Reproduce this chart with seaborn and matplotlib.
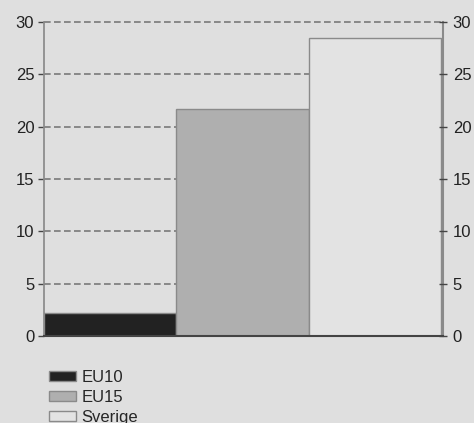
import matplotlib
matplotlib.use("Agg")
import matplotlib.pyplot as plt
import pandas as pd
import seaborn as sns

regions = ["EU10", "EU15", "Sverige"]
shares = [2.2, 21.7, 28.5]
bar_colors = ["#222222", "#afafaf", "#e3e3e3"]
yticks = [0, 5, 10, 15, 20, 25, 30]

bg = "#dfdfdf"

sns.set_theme(style="white")
plt.rcParams["font.family"] = ["Liberation Sans", "DejaVu Sans"]

df = pd.DataFrame({"region": regions, "share": shares})

fig = plt.figure(figsize=(4.74, 4.23), dpi=100)
fig.patch.set_facecolor(bg)
ax = fig.add_axes([44 / 474, 87 / 423, 399 / 474, 314 / 423])
ax.set_facecolor(bg)

sns.barplot(
    data=df, x="region", y="share", hue="region", palette=bar_colors,
    hue_order=regions, order=regions, width=1, edgecolor="#8a8a8a",
    linewidth=1, legend=True, ax=ax,
)
ax.set_xlim(-0.5, 2.515)
ax.set_ylim(0, 30)
ax.set_yticks(yticks)
ax.set_xticks([])
ax.set_xlabel("")
ax.set_ylabel("")
ax.set_axisbelow(True)
ax.yaxis.grid(True, linestyle=(0, (4, 2)), color="#7a7a7a", linewidth=1.2)
for line in ax.get_ygridlines():
    line.set_clip_on(False)

ax.spines["top"].set_visible(False)
ax.spines["left"].set_color("#8a8a8a")
ax.spines["right"].set_color("#8a8a8a")
ax.spines["right"].set_linewidth(1.5)
ax.spines["bottom"].set_color("#444444")
ax.spines["bottom"].set_linewidth(1.5)
ax.tick_params(axis="y", left=True, length=4, width=1, color="#444444",
               labelsize=12, labelcolor="#222222", pad=3)

ax2 = ax.twinx()
ax2.set_ylim(0, 30)
ax2.set_yticks(yticks)
for side in ["top", "left", "bottom", "right"]:
    ax2.spines[side].set_visible(False)
ax2.tick_params(axis="y", right=True, direction="inout", length=6, width=1,
                color="#444444", labelsize=12, labelcolor="#222222", pad=4)

handles, labels = ax.get_legend_handles_labels()
ax.get_legend().remove()
fig.legend(
    handles, labels, loc="upper left", bbox_to_anchor=(49 / 474, 53 / 423),
    frameon=False, fontsize=12, handlelength=1.6, handleheight=0.55,
    handletextpad=0.35, labelspacing=0.3, borderpad=0, borderaxespad=0,
)

fig.savefig("out.png", dpi=100, facecolor=bg)
